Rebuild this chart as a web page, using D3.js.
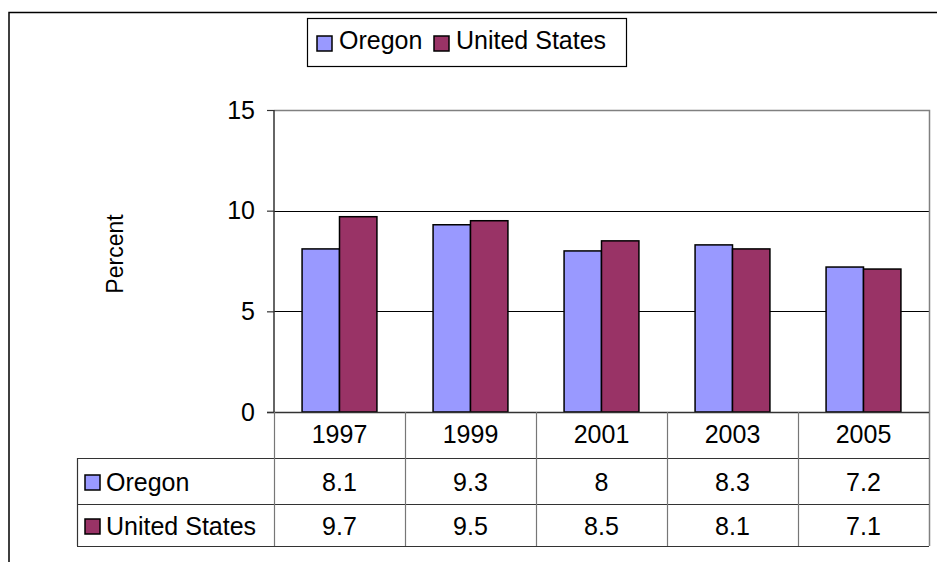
<!DOCTYPE html>
<html>
<head>
<meta charset="utf-8">
<script src="https://cdn.jsdelivr.net/npm/d3@7"></script>
<style>
  body { margin: 0; background: #fff; }
  text { font-family: "Liberation Sans", Arial, sans-serif; fill: #000; }
</style>
</head>
<body>
<div class="container"></div>
<script>
let years = ['1997', '1999', '2001', '2003', '2005'];
let seriesNames = ['Oregon', 'United States'];
let oregon = [8.1, 9.3, 8, 8.3, 7.2];
let unitedStates = [9.7, 9.5, 8.5, 8.1, 7.1];
let yTicks = [0, 5, 10, 15];
let colors = ['#9999ff', '#993366'];

let width = 937;
let height = 562;
let plot = { left: 274, right: 929, top: 110, bottom: 412 };
let tableLeft = 77;
let rowBottoms = [458, 504, 546];
let fontSize = '25px';

let svg = d3
  .select('.container')
  .append('svg')
  .attr('width', width)
  .attr('height', height);

// outer frame (only top and left edges show)
svg.append('path')
  .attr('d', 'M9,' + height + 'V12.5H' + width)
  .attr('fill', 'none')
  .attr('stroke', '#000')
  .attr('stroke-width', 1.5);

let x0 = d3.scaleBand().domain(years).range([plot.left, plot.right]);
let x1 = d3.scaleBand().domain(seriesNames).range([0, x0.bandwidth()]).paddingOuter(0.75);
let y = d3.scaleLinear().domain([0, 15]).range([plot.bottom, plot.top]);

let data = years.map((yr, i) => ({ year: yr, values: [oregon[i], unitedStates[i]] }));

// gridlines
svg.append('g')
  .selectAll('line')
  .data([5, 10])
  .enter()
  .append('line')
  .attr('x1', plot.left)
  .attr('x2', plot.right)
  .attr('y1', (d) => Math.round(y(d)) + 0.5)
  .attr('y2', (d) => Math.round(y(d)) + 0.5)
  .attr('stroke', '#000')
  .attr('stroke-width', 1);

// plot border top/right (gray)
svg.append('path')
  .attr('d', 'M' + plot.left + ',' + (plot.top + 0.5) + 'H' + (plot.right + 0.5) + 'V' + rowBottoms[2])
  .attr('fill', 'none')
  .attr('stroke', '#808080')
  .attr('stroke-width', 1.5);

// bars
let groups = svg.append('g')
  .selectAll('g')
  .data(data)
  .enter()
  .append('g')
  .attr('transform', (d) => 'translate(' + x0(d.year) + ',0)');

groups.selectAll('rect')
  .data((d) => d.values.map((v, i) => ({ name: seriesNames[i], value: v, i: i })))
  .enter()
  .append('rect')
  .attr('x', (d) => x1(d.name))
  .attr('y', (d) => y(d.value))
  .attr('width', x1.bandwidth())
  .attr('height', (d) => y(0) - y(d.value))
  .attr('fill', (d) => colors[d.i])
  .attr('stroke', '#000')
  .attr('stroke-width', 1.5);

// y axis
let yAxis = d3.axisLeft(y).tickValues(yTicks).tickSize(7).tickPadding(12);
let yg = svg.append('g')
  .attr('transform', 'translate(' + plot.left + ',0)')
  .call(yAxis);
yg.select('.domain').remove();
yg.selectAll('line').attr('stroke', '#333').attr('stroke-width', 1.2);
yg.selectAll('text')
  .style('font-family', '"Liberation Sans", Arial, sans-serif')
  .style('font-size', fontSize)
  .attr('fill', '#000');

svg.append('line')
  .attr('x1', plot.left).attr('x2', plot.left)
  .attr('y1', plot.top).attr('y2', plot.bottom)
  .attr('stroke', '#333').attr('stroke-width', 1.5);

svg.append('text')
  .attr('transform', 'translate(123,254) rotate(-90)')
  .attr('text-anchor', 'middle')
  .style('font-size', '23px')
  .text('Percent');

// data table
let tbl = svg.append('g').attr('stroke', '#333').attr('stroke-width', 1.2);
tbl.append('line')
  .attr('x1', plot.left - 7).attr('x2', plot.right)
  .attr('y1', plot.bottom + 0.5).attr('y2', plot.bottom + 0.5)
  .attr('stroke-width', 1.5);
rowBottoms.forEach((yy) => {
  tbl.append('line')
    .attr('x1', tableLeft).attr('x2', plot.right)
    .attr('y1', yy + 0.5).attr('y2', yy + 0.5);
});
tbl.append('line')
  .attr('x1', tableLeft + 0.5).attr('x2', tableLeft + 0.5)
  .attr('y1', rowBottoms[0]).attr('y2', rowBottoms[2]);
tbl.selectAll('.vdiv')
  .data(years)
  .enter()
  .append('line')
  .attr('class', 'vdiv')
  .attr('x1', (d) => Math.round(x0(d)) + 0.5)
  .attr('x2', (d) => Math.round(x0(d)) + 0.5)
  .attr('y1', plot.bottom)
  .attr('y2', rowBottoms[2])
  .attr('stroke', '#777');

svg.append('g')
  .selectAll('text')
  .data(years)
  .enter()
  .append('text')
  .attr('x', (d) => x0(d) + x0.bandwidth() / 2)
  .attr('y', (plot.bottom + rowBottoms[0]) / 2 - 1)
  .attr('text-anchor', 'middle')
  .attr('dominant-baseline', 'central')
  .style('font-size', fontSize)
  .text((d) => d);

let rows = [oregon, unitedStates];
let rowTop = [rowBottoms[0], rowBottoms[1]];
rows.forEach((vals, r) => {
  let cy = (rowTop[r] + rowBottoms[r + 1]) / 2 + 1;
  svg.append('rect')
    .attr('x', 85)
    .attr('y', cy - 7)
    .attr('width', 15)
    .attr('height', 15)
    .attr('fill', colors[r])
    .attr('stroke', '#000')
    .attr('stroke-width', 1.5);
  svg.append('text')
    .attr('x', 106)
    .attr('y', cy)
    .attr('dominant-baseline', 'central')
    .style('font-size', fontSize)
    .text(seriesNames[r]);
  svg.append('g')
    .selectAll('text')
    .data(vals)
    .enter()
    .append('text')
    .attr('x', (d, i) => x0(years[i]) + x0.bandwidth() / 2)
    .attr('y', cy)
    .attr('text-anchor', 'middle')
    .attr('dominant-baseline', 'central')
    .style('font-size', fontSize)
    .text((d) => d);
});

// legend
let legend = svg.append('g').attr('id', 'legend');
legend.append('rect')
  .attr('x', 307.5).attr('y', 18.5)
  .attr('width', 319).attr('height', 48)
  .attr('fill', '#fff')
  .attr('stroke', '#000')
  .attr('stroke-width', 1.2);
let legendX = [317, 434];
seriesNames.forEach((name, i) => {
  legend.append('rect')
    .attr('x', legendX[i]).attr('y', 36)
    .attr('width', 15).attr('height', 15)
    .attr('fill', colors[i])
    .attr('stroke', '#000')
    .attr('stroke-width', 1.5);
  legend.append('text')
    .attr('x', legendX[i] + 22)
    .attr('y', 49)
    .style('font-size', fontSize)
    .text(name);
});
</script>
</body>
</html>
